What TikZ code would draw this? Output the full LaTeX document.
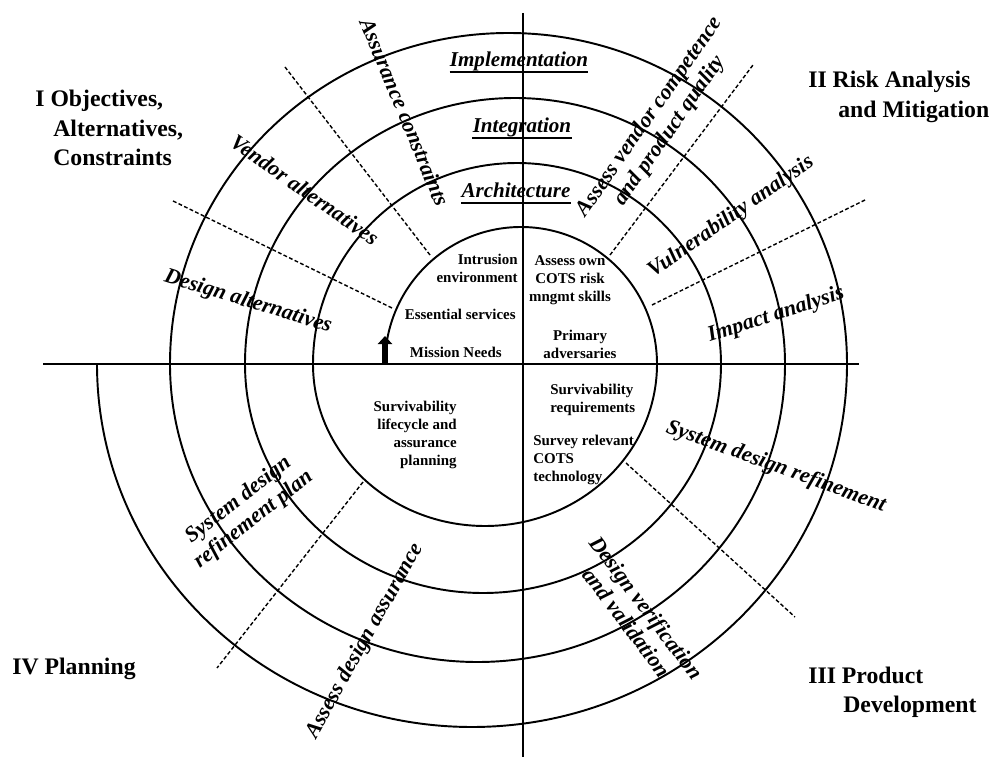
\documentclass[tikz,border=0pt]{standalone}
\usepackage{fontspec}
\setmainfont{Liberation Serif}
\usetikzlibrary{arrows.meta}
\tikzset{
	spiralLine/.style={line width=1.1pt},
	axisLine/.style={line width=1.4pt},
	sectorLine/.style={line width=0.8pt, dash pattern=on 2.2pt off 1.3pt},
	underLine/.style={line width=0.9pt},
	quadrantLabel/.style={anchor=base west, inner sep=0pt, font=\fontsize{13.5}{16}\selectfont\bfseries},
	ringTitle/.style={anchor=base, inner sep=0pt, font=\fontsize{12}{14}\selectfont\bfseries\itshape},
	taskLabel/.style={inner sep=0pt, align=center, font=\fontsize{12.5}{14}\selectfont\bfseries\itshape},
	coreText/.style={inner sep=0pt, font=\fontsize{8.5}{10.2}\selectfont\bfseries}
}
\begin{document}
\begin{tikzpicture}[x=0.2mm,y=0.2mm]
	\useasboundingbox (0,0) rectangle (995,758);
	% axes
	\draw[axisLine] (43,394) -- (859,394);
	\draw[axisLine] (523,745) -- (523,1);
	% spiral, top halves and bottom halves
	\draw[spiralLine] (385,394)
		arc[start angle=180, end angle=0, x radius=136, y radius=137]
		arc[start angle=0, end angle=-180, x radius=172, y radius=162]
		arc[start angle=180, end angle=0, x radius=204, y radius=201]
		arc[start angle=0, end angle=-180, x radius=238, y radius=229]
		arc[start angle=180, end angle=0, x radius=270, y radius=266]
		arc[start angle=0, end angle=-180, x radius=307.5, y radius=298]
		arc[start angle=180, end angle=0, x radius=338.5, y radius=331]
		arc[start angle=0, end angle=-180, x radius=375, y radius=363];
	\draw[line width=3.4pt, -{Triangle[length=1.6mm,width=2.8mm]}] (385,394) -- (385,422);
	% sector boundaries
	\draw[sectorLine] (430,503) -- (285,691);
	\draw[sectorLine] (392,450) -- (171,558);
	\draw[sectorLine] (610,503) -- (753,693);
	\draw[sectorLine] (652,453) -- (865,558);
	\draw[sectorLine] (626,295) -- (795,141);
	\draw[sectorLine] (363,276) -- (217,90);
	% quadrants
	\node[quadrantLabel] (q1a) at (35,651) {I Objectives,};
	\node[quadrantLabel] (q1b) at (53,621) {Alternatives,};
	\node[quadrantLabel] (q1c) at (53,592) {Constraints};
	\node[quadrantLabel] (q2a) at (808,670) {II Risk Analysis};
	\node[quadrantLabel] (q2b) at (838,640) {and Mitigation};
	\node[quadrantLabel] (q3a) at (808,75) {III Product};
	\node[quadrantLabel] (q3b) at (843,46) {Development};
	\node[quadrantLabel] (q4) at (12,84) {IV Planning};
	% ring titles
	\node[ringTitle] (impl) at (519,691) {Implementation};
	\node[ringTitle] (integ) at (522,625) {Integration};
	\node[ringTitle] (arch) at (516,560) {Architecture};
	\foreach \t in {impl,integ,arch}
		\draw[underLine] ([yshift=-1mm]\t.base west) -- ([yshift=-1mm]\t.base east);
	% tasks along the spiral
	\node[taskLabel, rotate=-67.5] (assConstr) at (405,646) {Assurance constraints};
	\node[taskLabel, rotate=-35] (vendAlt) at (305,568) {Vendor alternatives};
	\node[taskLabel, rotate=-17] (desAlt) at (248,456) {Design alternatives};
	\node[taskLabel, rotate=55] (vendComp) at (660,634) {Assess vendor competence\\and product quality};
	\node[taskLabel, rotate=35] (vulnAn) at (731,541) {Vulnerability analysis};
	\node[taskLabel, rotate=18] (impAn) at (776,443) {Impact analysis};
	\node[taskLabel, rotate=-20] (sysRef) at (776,291) {System design refinement};
	\node[taskLabel, rotate=-53] (desVer) at (637,143) {Design verification\\and validation};
	\node[taskLabel, rotate=38] (sysPlan) at (246,248) {System design\\refinement plan};
	\node[taskLabel, rotate=61] (assDes) at (365,117) {Assess design assurance};
	% inner round
	\node[coreText, anchor=east, align=right] (intrusion) at (518,490) {Intrusion\\environment};
	\node[coreText, anchor=base east] (essential) at (516,439) {Essential services};
	\node[coreText, anchor=base east] (mission) at (502,400) {Mission Needs};
	\node[coreText, align=center] (ownSkills) at (570,478) {Assess own\\COTS risk\\mngmt skills};
	\node[coreText, align=center] (adversaries) at (580,414) {Primary\\adversaries};
	\node[coreText, anchor=west, align=left] (survReq) at (550,358) {Survivability\\requirements};
	\node[coreText, anchor=west, align=left] (survey) at (533,298) {Survey relevant\\COTS\\technology};
	\node[coreText, anchor=east, align=right] (lifecycle) at (457,323) {Survivability\\lifecycle and\\assurance\\planning};
\end{tikzpicture}
\end{document}
